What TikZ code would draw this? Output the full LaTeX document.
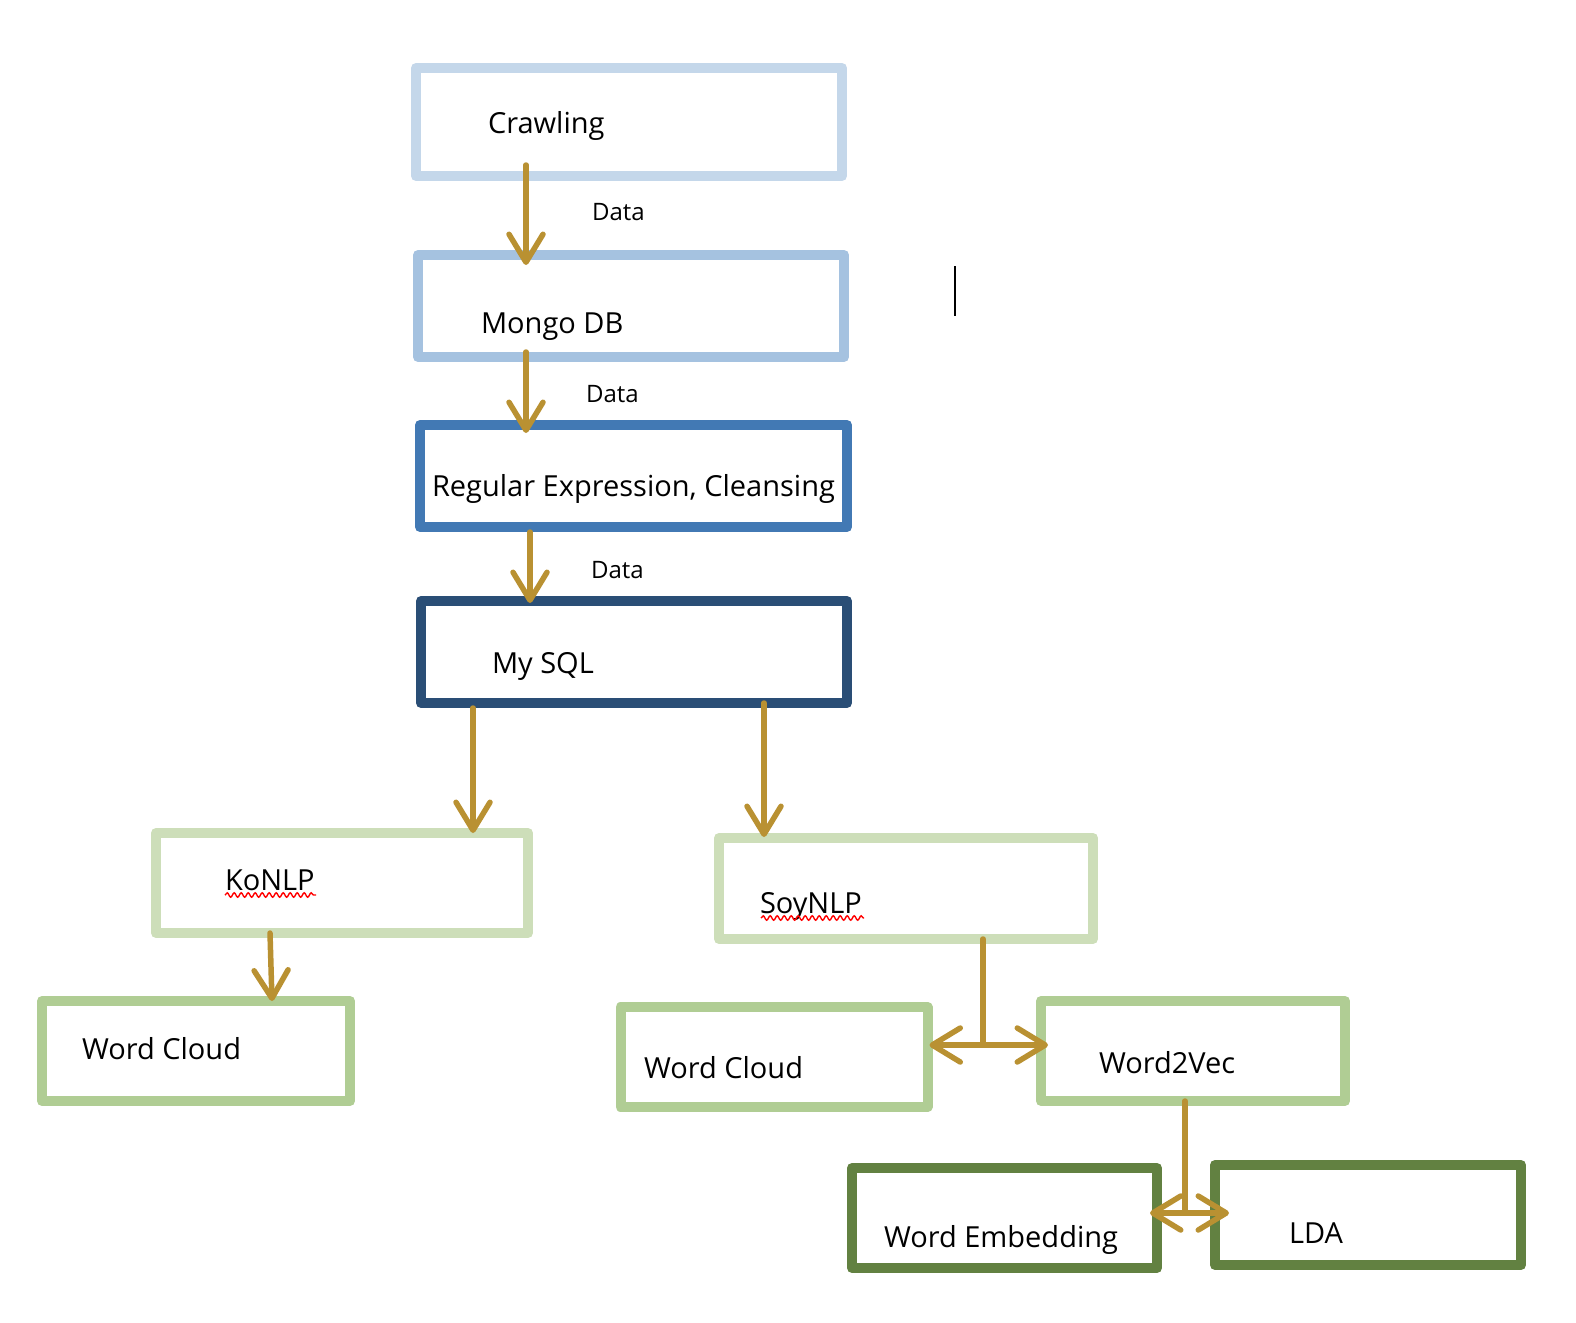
\documentclass[tikz,border=0pt]{standalone}
\usepackage{fontspec}
\setmainfont{Open Sans}
\usetikzlibrary{arrows.meta,calc,decorations.pathmorphing}
\definecolor{cCrawl}{RGB}{196,215,234}
\definecolor{cMongo}{RGB}{165,194,224}
\definecolor{cRegex}{RGB}{66,121,180}
\definecolor{cSql}{RGB}{42,78,118}
\definecolor{cGreenA}{RGB}{205,222,185}
\definecolor{cGreenB}{RGB}{176,205,148}
\definecolor{cGreenC}{RGB}{98,129,65}
\definecolor{cArrow}{RGB}{185,145,50}
\begin{document}
\begin{tikzpicture}[x=1pt,y=-1pt,
  box/.style={draw=#1, line width=10pt, rectangle, inner sep=0pt, outer sep=0pt, line join=round},
  lbl/.style={anchor=base west, inner sep=0pt, outer sep=0pt, font=\fontsize{29}{34}\selectfont},
  dlbl/.style={anchor=base west, inner sep=0pt, outer sep=0pt, font=\fontsize{24}{28}\selectfont},
  arr/.style={draw=cArrow, line width=5.5pt, line cap=round, -{Straight Barb[length=28pt,width=34pt,round]}},
  arrtwo/.style={draw=cArrow, line width=5.5pt, line cap=round, {Straight Barb[length=28pt,width=34pt,round]}-{Straight Barb[length=28pt,width=34pt,round]}},
  plain/.style={draw=cArrow, line width=5.5pt, line cap=round},
  squig/.style={draw=red, line width=1.4pt, decorate, decoration={snake, segment length=7pt, amplitude=2.2pt}}
]
\useasboundingbox (0,0) rectangle (1576,1322);

% boxes
\node[box=cCrawl, minimum width=426pt, minimum height=108pt] (crawl) at (629,122) {};
\node[box=cMongo, minimum width=426pt, minimum height=102pt] (mongo) at (631,306) {};
\node[box=cRegex, minimum width=427pt, minimum height=102pt] (regex) at (633.5,476) {};
\node[box=cSql, minimum width=426pt, minimum height=102pt] (mysql) at (634,652) {};
\node[box=cGreenA, minimum width=372pt, minimum height=100pt] (konlp) at (342,883) {};
\node[box=cGreenA, minimum width=374pt, minimum height=101pt] (soynlp) at (906,888.5) {};
\node[box=cGreenB, minimum width=308pt, minimum height=100pt] (wcone) at (196,1051) {};
\node[box=cGreenB, minimum width=307pt, minimum height=100pt] (wctwo) at (774,1057) {};
\node[box=cGreenB, minimum width=304pt, minimum height=100pt] (wtv) at (1193,1051) {};
\node[box=cGreenC, minimum width=305pt, minimum height=100pt] (wemb) at (1004.5,1218) {};
\node[box=cGreenC, minimum width=306pt, minimum height=100pt] (lda) at (1368,1215) {};

% texts
\node[lbl] (tcrawl) at (488,133) {Crawling};
\node[lbl] (tmongo) at (481,333) {Mongo DB};
\node[lbl] (tregex) at (432,496) {Regular Expression, Cleansing};
\node[lbl] (tsql) at (492,673) {My SQL};
\node[lbl] (tkonlp) at (225,890) {KoNLP};
\node[lbl] (tsoy) at (760,913) {SoyNLP};
\node[lbl] (twcone) at (82,1059) {Word Cloud};
\node[lbl] (twctwo) at (644,1078) {Word Cloud};
\node[lbl] (twtv) at (1099,1073) {Word2Vec};
\node[lbl] (twemb) at (884,1247) {Word Embedding};
\node[lbl] (tlda) at (1289,1243) {LDA};
\node[dlbl] (done) at (592,220) {Data};
\node[dlbl] (dtwo) at (586,402) {Data};
\node[dlbl] (dthree) at (591,578) {Data};

% connectors
\draw[arr] ($(crawl.south -| 526,0)+(0,-11)$) -- ($(mongo.north -| 526,0)+(0,10)$);
\draw[arr] ($(mongo.south -| 526,0)+(0,-5)$) -- ($(regex.north -| 526,0)+(0,8)$);
\draw[arr] ($(regex.south -| 530,0)+(0,5)$) -- ($(mysql.north -| 530,0)+(0,2)$);
\draw[arr] ($(mysql.south -| 473,0)+(0,5)$) -- (konlp.north -| 473,0);
\draw[arr] ($(mysql.south -| 764,0)+(0,0)$) -- ($(soynlp.north -| 764,0)+(0,-1)$);
\draw[arr] (konlp.south -| 270,0) -- (wcone.north -| 272,0);

\coordinate (jone) at (983,1045);
\draw[plain] (soynlp.south -| jone) -- (jone);
\draw[arrtwo] ($(wctwo.east |- jone)+(2,0)$) -- ($(wtv.west |- jone)+(7,0)$);

\coordinate (jtwo) at (1185,1213);
\draw[plain] (wtv.south -| jtwo) -- (jtwo);
\draw[arrtwo] ($(wemb.east |- jtwo)+(-7,0)$) -- ($(lda.west |- jtwo)+(14,0)$);

% spell-check underlines
\draw[squig] (tkonlp.base west) ++(0,5) -- ++(91,0);
\draw[squig] (tsoy.base west) ++(1,5) -- ++(103,0);

% text cursor
\draw[line width=2.5pt] (955,266) -- (955,316);
\end{tikzpicture}
\end{document}
